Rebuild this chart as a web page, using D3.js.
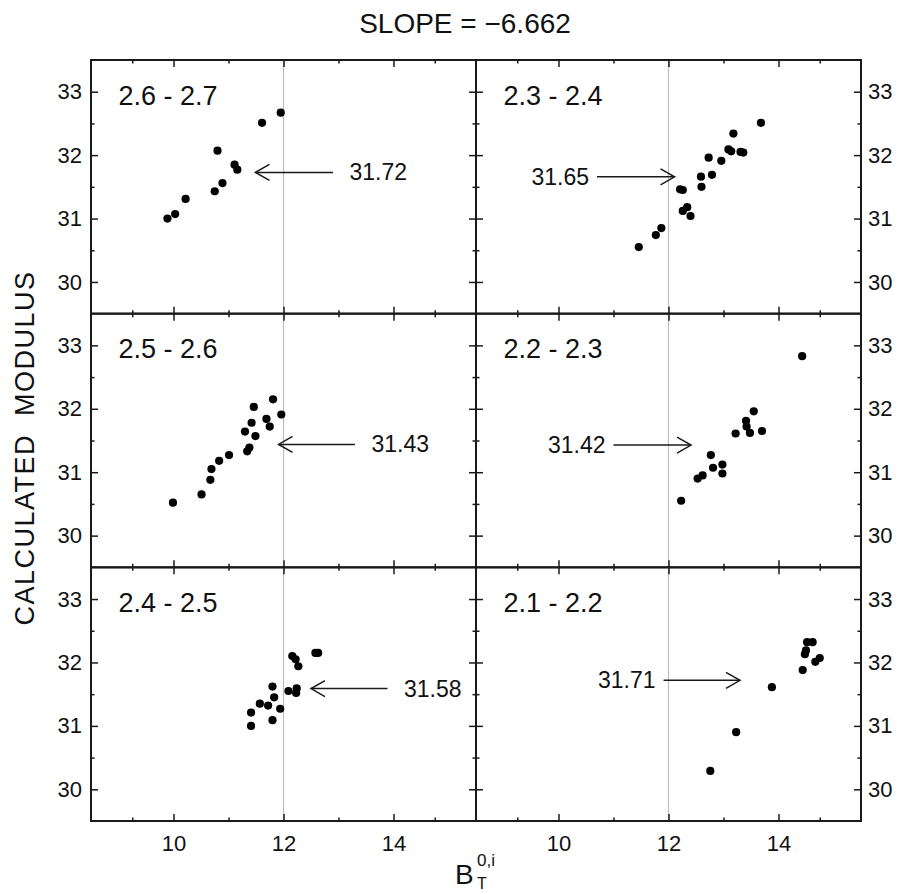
<!DOCTYPE html>
<html>
<head>
<meta charset="utf-8">
<script src="https://cdn.jsdelivr.net/npm/d3@7"></script>
<style>
  html, body { margin: 0; padding: 0; background: #fff; }
  svg { display: block; }
  text { font-family: "Liberation Sans", Arial, Helvetica, sans-serif; fill: #111; }
</style>
</head>
<body>
<svg id="chart" width="899" height="894"></svg>
<script>
// ---------------- DATA ----------------
const title = "SLOPE = \u22126.662";
const yTitle = "CALCULATED  MODULUS";
const panelLabels = ["2.6 - 2.7", "2.3 - 2.4", "2.5 - 2.6", "2.2 - 2.3", "2.4 - 2.5", "2.1 - 2.2"];

const x_26_27 = [9.89, 10.03, 10.22, 10.75, 10.89, 10.80, 11.11, 11.16, 11.61, 11.95];
const y_26_27 = [31.00, 31.07, 31.31, 31.43, 31.56, 32.07, 31.85, 31.77, 32.51, 32.67];

const x_23_24 = [11.46, 11.77, 11.87, 12.21, 12.26, 12.26, 12.34, 12.40, 12.59, 12.60, 12.73, 12.79, 12.96, 13.09, 13.14, 13.18, 13.31, 13.36, 13.68];
const y_23_24 = [30.55, 30.74, 30.85, 31.46, 31.45, 31.12, 31.18, 31.04, 31.66, 31.50, 31.96, 31.69, 31.91, 32.09, 32.06, 32.34, 32.05, 32.04, 32.51];

const x_25_26 = [9.99, 10.51, 10.67, 10.69, 10.83, 11.01, 11.34, 11.38, 11.30, 11.42, 11.49, 11.46, 11.69, 11.75, 11.81, 11.96];
const y_25_26 = [30.52, 30.65, 30.88, 31.05, 31.18, 31.27, 31.33, 31.39, 31.64, 31.78, 31.57, 32.03, 31.84, 31.72, 32.15, 31.91];

const x_22_23 = [12.23, 12.53, 12.62, 12.77, 12.81, 12.98, 12.98, 13.22, 13.41, 13.42, 13.48, 13.55, 13.70, 14.43];
const y_22_23 = [30.55, 30.90, 30.95, 31.27, 31.07, 31.12, 30.98, 31.61, 31.81, 31.72, 31.62, 31.96, 31.65, 32.83];

const x_24_25 = [11.41, 11.41, 11.57, 11.72, 11.80, 11.83, 11.80, 11.94, 12.09, 12.16, 12.22, 12.27, 12.24, 12.23, 12.58, 12.63];
const y_24_25 = [31.00, 31.21, 31.35, 31.32, 31.62, 31.45, 31.09, 31.27, 31.55, 32.10, 32.05, 31.94, 31.59, 31.52, 32.15, 32.15];

const x_21_22 = [12.76, 13.23, 13.88, 14.44, 14.48, 14.50, 14.52, 14.62, 14.67, 14.75];
const y_21_22 = [30.29, 30.90, 31.61, 31.88, 32.13, 32.19, 32.32, 32.32, 32.01, 32.07];

// arrow annotations: value, tail x, tip x (data units)
const arrowValues = [31.72, 31.65, 31.43, 31.42, 31.58, 31.71];
const arrowTails  = [12.90, 10.70, 13.30, 11.00, 13.89, 11.91];
const arrowTips   = [11.49, 12.11, 11.91, 12.41, 12.50, 13.30];

const xDomain = [8.5, 15.5];
const yDomain = [29.5, 33.5];
const xMajorTicks = [10, 12, 14];
const xMinorTicks = [9.25, 11, 13, 14.75];
const yMajorTicks = [30, 31, 32, 33];
const yMinorTicks = [30.5, 31.5, 32.5];
const refLineX = 12;

// ---------------- LAYOUT ----------------
const svg = d3.select("#chart");
const L = 91, R = 861, T = 60, B = 821;
const colW = (R - L) / 2, rowH = (B - T) / 3;
const ink = "#1a1a1a";

const panelX = [x_26_27, x_23_24, x_25_26, x_22_23, x_24_25, x_21_22];
const panelY = [y_26_27, y_23_24, y_25_26, y_22_23, y_24_25, y_21_22];

panelLabels.forEach((lab, i) => {
  const col = i % 2, row = Math.floor(i / 2);
  const x0 = L + col * colW, y0 = T + row * rowH;
  const xs = d3.scaleLinear().domain(xDomain).range([x0, x0 + colW]);
  const ys = d3.scaleLinear().domain(yDomain).range([y0 + rowH, y0]);
  const g = svg.append("g");

  // reference line
  g.append("line")
    .attr("x1", xs(refLineX)).attr("x2", xs(refLineX))
    .attr("y1", y0).attr("y2", y0 + rowH)
    .attr("stroke", "#bdbdbd").attr("stroke-width", 1.2);

  // axes (inward ticks)
  function addAxis(axisFn, scale, ticks, size, tx, ty, labels, pad) {
    const a = axisFn(scale).tickValues(ticks).tickSizeInner(-size).tickSizeOuter(0)
      .tickPadding(pad || 0)
      .tickFormat(labels ? d3.format("d") : "");
    const ag = g.append("g").attr("transform", `translate(${tx},${ty})`).call(a);
    ag.select(".domain").remove();
    ag.selectAll("line").attr("stroke", ink).attr("stroke-width", 1.5);
    ag.selectAll("text").attr("font-size", 22).attr("fill", "#111")
      .style("font-family", '"Liberation Sans", Arial, sans-serif');
    return ag;
  }
  const bottomRow = row === 2;
  addAxis(d3.axisBottom, xs, xMajorTicks, 7, 0, y0 + rowH, bottomRow, 14);
  addAxis(d3.axisBottom, xs, xMinorTicks, 3.5, 0, y0 + rowH, false);
  addAxis(d3.axisTop, xs, xMajorTicks, 7, 0, y0, false);
  addAxis(d3.axisTop, xs, xMinorTicks, 3.5, 0, y0, false);
  addAxis(d3.axisLeft, ys, yMajorTicks, 7, x0, 0, col === 0, 9);
  addAxis(d3.axisLeft, ys, yMinorTicks, 3.5, x0, 0, false);
  addAxis(d3.axisRight, ys, yMajorTicks, 7, x0 + colW, 0, col === 1, 7);
  addAxis(d3.axisRight, ys, yMinorTicks, 3.5, x0 + colW, 0, false);

  // frame
  g.append("rect").attr("x", x0).attr("y", y0).attr("width", colW).attr("height", rowH)
    .attr("fill", "none").attr("stroke", ink).attr("stroke-width", 2);

  // points
  g.selectAll("circle").data(d3.zip(panelX[i], panelY[i])).join("circle")
    .attr("cx", d => xs(d[0])).attr("cy", d => ys(d[1]))
    .attr("r", 4.1).attr("fill", "#000");

  // panel label
  g.append("text").attr("x", x0 + 27.5).attr("y", y0 + 44.5)
    .attr("font-size", 27).text(lab);

  // arrow
  const v = arrowValues[i];
  const ay = ys(v) - 0.5;
  const tx = xs(arrowTails[i]), px = xs(arrowTips[i]);
  const dir = px > tx ? 1 : -1;
  g.append("line").attr("x1", tx).attr("x2", px).attr("y1", ay).attr("y2", ay)
    .attr("stroke", ink).attr("stroke-width", 1.5);
  g.append("path")
    .attr("d", `M${px - dir * 14},${ay - 8}L${px},${ay}L${px - dir * 14},${ay + 8}`)
    .attr("fill", "none").attr("stroke", ink).attr("stroke-width", 1.5);
  g.append("text")
    .attr("x", dir < 0 ? tx + 16.5 : tx - 8)
    .attr("y", ay + 8)
    .attr("text-anchor", dir < 0 ? "start" : "end")
    .attr("font-size", 23)
    .text(v.toFixed(2));
});

// title
svg.append("text").attr("x", 465).attr("y", 33).attr("text-anchor", "middle")
  .attr("font-size", 28).text(title);

// y title
svg.append("text")
  .attr("transform", "translate(34,448) rotate(-90)")
  .attr("text-anchor", "middle")
  .attr("font-size", 27)
  .attr("letter-spacing", 1.5)
  .style("white-space", "pre")
  .attr("xml:space", "preserve")
  .text(yTitle);

// x title  B_T^{0,i}
svg.append("text").attr("x", 455).attr("y", 884).attr("font-size", 28).text("B");
svg.append("text").attr("x", 477).attr("y", 889).attr("font-size", 16).text("T");
svg.append("text").attr("x", 477).attr("y", 866).attr("font-size", 17).text("0,i");
</script>
</body>
</html>
